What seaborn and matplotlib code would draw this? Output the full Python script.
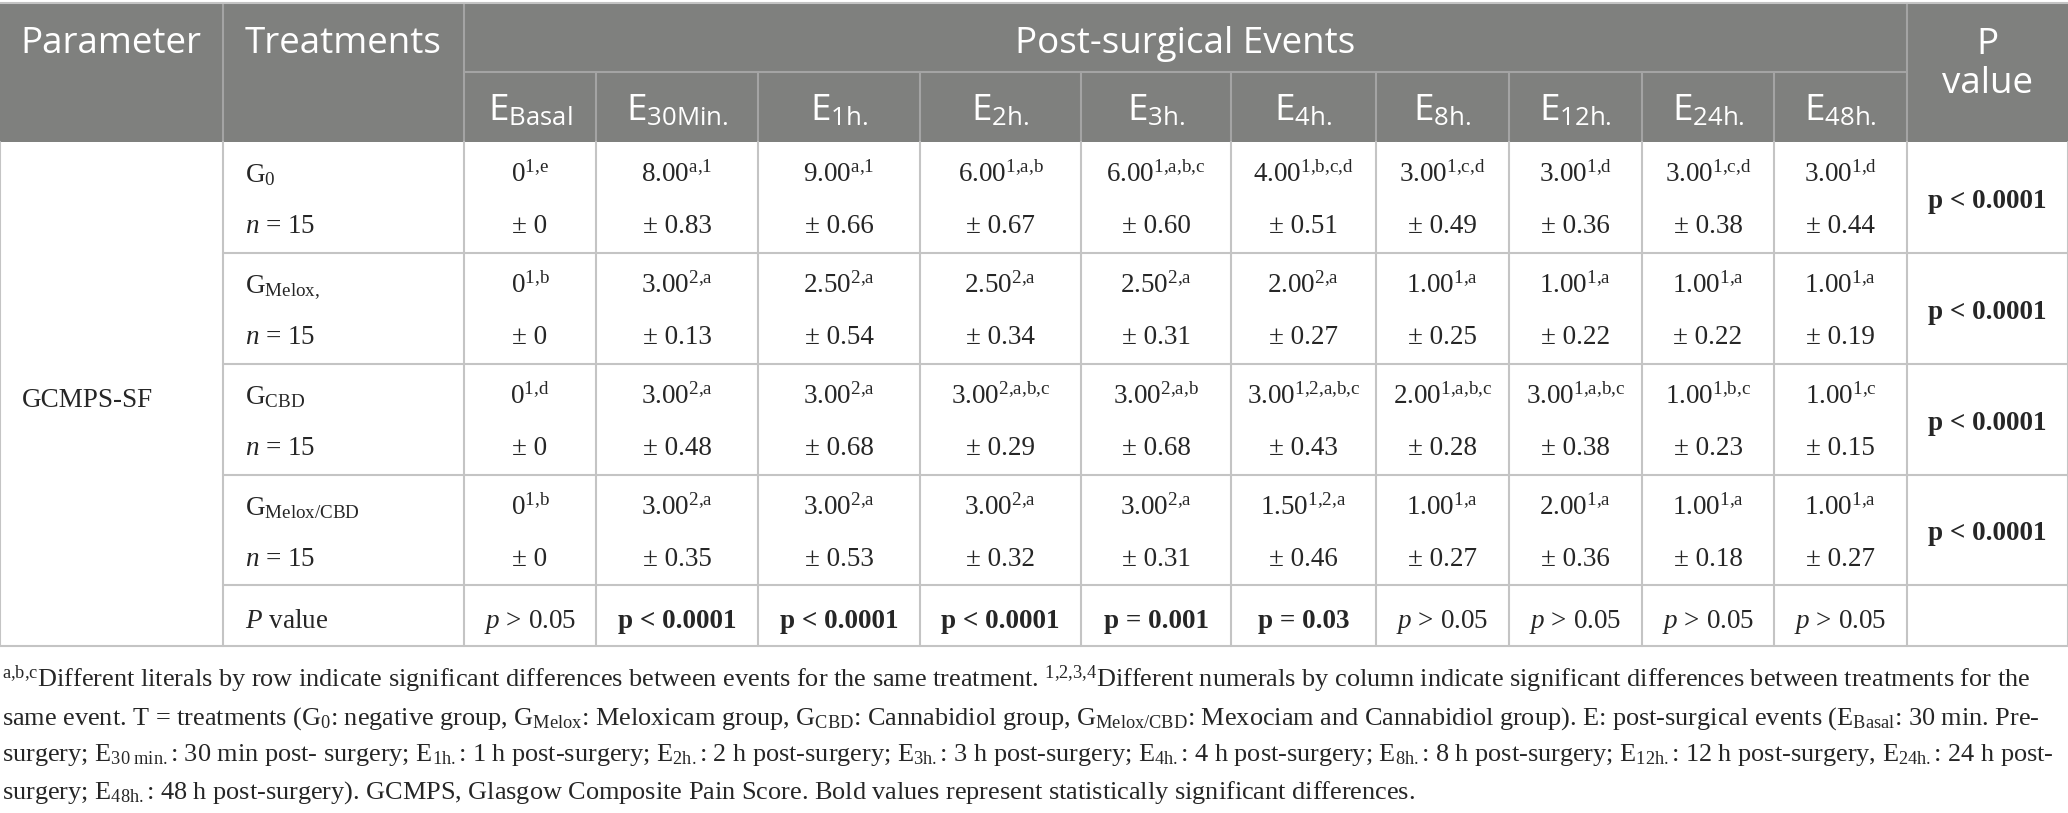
import matplotlib
matplotlib.use("Agg")
import matplotlib.pyplot as plt
import seaborn as sns
from matplotlib.patches import Rectangle

# ---- table data ----
events = ["Basal", "30Min.", "1h.", "2h.", "3h.", "4h.", "8h.", "12h.", "24h.", "48h."]
treatments = ["0", "Melox,", "CBD", "Melox/CBD"]
group_n = [15, 15, 15, 15]
parameter = "GCMPS-SF"

g0_mean = [0, 8.00, 9.00, 6.00, 6.00, 4.00, 3.00, 3.00, 3.00, 3.00]
g0_sup = ["1,e", "a,1", "a,1", "1,a,b", "1,a,b,c", "1,b,c,d", "1,c,d", "1,d", "1,c,d", "1,d"]
g0_sd = [0, 0.83, 0.66, 0.67, 0.60, 0.51, 0.49, 0.36, 0.38, 0.44]

melox_mean = [0, 3.00, 2.50, 2.50, 2.50, 2.00, 1.00, 1.00, 1.00, 1.00]
melox_sup = ["1,b", "2,a", "2,a", "2,a", "2,a", "2,a", "1,a", "1,a", "1,a", "1,a"]
melox_sd = [0, 0.13, 0.54, 0.34, 0.31, 0.27, 0.25, 0.22, 0.22, 0.19]

cbd_mean = [0, 3.00, 3.00, 3.00, 3.00, 3.00, 2.00, 3.00, 1.00, 1.00]
cbd_sup = ["1,d", "2,a", "2,a", "2,a,b,c", "2,a,b", "1,2,a,b,c", "1,a,b,c", "1,a,b,c", "1,b,c", "1,c"]
cbd_sd = [0, 0.48, 0.68, 0.29, 0.68, 0.43, 0.28, 0.38, 0.23, 0.15]

mc_mean = [0, 3.00, 3.00, 3.00, 3.00, 1.50, 1.00, 2.00, 1.00, 1.00]
mc_sup = ["1,b", "2,a", "2,a", "2,a", "2,a", "1,2,a", "1,a", "1,a", "1,a", "1,a"]
mc_sd = [0, 0.35, 0.53, 0.32, 0.31, 0.46, 0.27, 0.36, 0.18, 0.27]

# P value by event (sign, value, significant)
event_p_sign = [">", "<", "<", "<", "=", "=", ">", ">", ">", ">"]
event_p_val = ["0.05", "0.0001", "0.0001", "0.0001", "0.001", "0.03", "0.05", "0.05", "0.05", "0.05"]
event_p_sig = [False, True, True, True, True, True, False, False, False, False]
# P value by treatment
treat_p = ["p < 0.0001", "p < 0.0001", "p < 0.0001", "p < 0.0001"]

means = [g0_mean, melox_mean, cbd_mean, mc_mean]
sups = [g0_sup, melox_sup, cbd_sup, mc_sup]
sds = [g0_sd, melox_sd, cbd_sd, mc_sd]

footnote = [
    r"$^{\mathrm{a{,}b{,}c}}$Different literals by row indicate significant differences between events for the same treatment. "
    r"$^{\mathrm{1{,}2{,}3{,}4}}$Different numerals by column indicate significant differences between treatments for the",
    r"same event. T = treatments (G$_{\mathrm{0}}$: negative group, G$_{\mathrm{Melox}}$: Meloxicam group, "
    r"G$_{\mathrm{CBD}}$: Cannabidiol group, G$_{\mathrm{Melox/CBD}}$: Mexociam and Cannabidiol group). "
    r"E: post-surgical events (E$_{\mathrm{Basal}}$: 30 min. Pre-",
    r"surgery; E$_{\mathrm{30\ min.}}$: 30 min post- surgery; E$_{\mathrm{1h.}}$: 1 h post-surgery; "
    r"E$_{\mathrm{2h.}}$: 2 h post-surgery; E$_{\mathrm{3h.}}$: 3 h post-surgery; E$_{\mathrm{4h.}}$: 4 h post-surgery; "
    r"E$_{\mathrm{8h.}}$: 8 h post-surgery; E$_{\mathrm{12h.}}$: 12 h post-surgery, E$_{\mathrm{24h.}}$: 24 h post-",
    r"surgery; E$_{\mathrm{48h.}}$: 48 h post-surgery). GCMPS, Glasgow Composite Pain Score. "
    r"Bold values represent statistically significant differences.",
]

# ---- style ----
sns.set_theme(style="white")
plt.rcParams["font.family"] = ["Liberation Serif", "DejaVu Serif"]
plt.rcParams["mathtext.fontset"] = "custom"
plt.rcParams["mathtext.rm"] = "Liberation Serif"
plt.rcParams["mathtext.it"] = "Liberation Serif:italic"
plt.rcParams["mathtext.bf"] = "Liberation Serif:bold"
plt.rcParams["mathtext.sf"] = "Open Sans"

HDR = "#7f807e"
HDR_LINE = "#a4a4a4"
GRID = "#c4c4c4"
SANS = ["Open Sans", "DejaVu Sans"]
LW = 1.5

W, H = 2068, 813
cols = [0, 223, 464, 596, 758, 920, 1081, 1231, 1376, 1509, 1642, 1774, 1907, 2068]
top, hmid, hbot = 3, 72, 142
rows = [142, 253, 364, 475, 585, 646]

fig = plt.figure(figsize=(W / 100, H / 100), dpi=100)
ax = fig.add_axes([0, 0, 1, 1])
ax.set_xlim(0, W)
ax.set_ylim(H, 0)
ax.axis("off")

# header block
ax.add_patch(Rectangle((0, top), W, hbot - top, facecolor=HDR, lw=0))
for x in [cols[1], cols[2], cols[12]]:
    ax.plot([x, x], [top, hbot], color=HDR_LINE, lw=LW)
ax.plot([cols[2], cols[12]], [hmid, hmid], color=HDR_LINE, lw=LW)
for x in cols[3:12]:
    ax.plot([x, x], [hmid, hbot], color=HDR_LINE, lw=LW)
ax.plot([0, W], [top, top], color=GRID, lw=LW)

hfs = 26.5
ax.text(20, 53, "Parameter", color="white", fontsize=hfs, family=SANS)
ax.text(245, 53, "Treatments", color="white", fontsize=hfs, family=SANS)
ax.text((cols[2] + cols[12]) / 2, 53, "Post-surgical Events", color="white",
        fontsize=hfs, family=SANS, ha="center")
ax.text((cols[12] + cols[13]) / 2, 54, "P", color="white", fontsize=hfs, family=SANS, ha="center")
ax.text((cols[12] + cols[13]) / 2, 93, "value", color="white", fontsize=hfs, family=SANS, ha="center")
for j, ev in enumerate(events):
    cx = (cols[j + 2] + cols[j + 3]) / 2
    ax.text(cx, 121, r"E$_{\mathsf{%s}}$" % ev, color="white", fontsize=hfs, family=SANS, ha="center")

# body grid
for y in rows[1:-1]:
    ax.plot([cols[1], W], [y, y], color=GRID, lw=LW)
ax.plot([0, W], [rows[-1], rows[-1]], color=GRID, lw=LW)
for x in cols:
    ax.plot([x, x], [hbot, rows[-1]], color=GRID, lw=LW)

bfs = 19.5
ax.text(22, (rows[0] + rows[-1]) / 2 + 13, parameter, fontsize=bfs)

for i, tr in enumerate(treatments):
    y0 = rows[i]
    ax.text(245, y0 + 40, r"G$_{\mathrm{%s}}$" % tr, fontsize=bfs)
    ax.text(245, y0 + 91, r"$n$ = %d" % group_n[i], fontsize=bfs)
    for j in range(len(events)):
        cx = (cols[j + 2] + cols[j + 3]) / 2
        m = means[i][j]
        mtxt = "0" if m == 0 else "%.2f" % m
        sup = sups[i][j].replace(",", "{,}")
        ax.text(cx, y0 + 40, mtxt + r"$^{\mathrm{%s}}$" % sup, fontsize=bfs, ha="center")
        s = sds[i][j]
        stxt = "± 0" if s == 0 else "± %.2f" % s
        ax.text(cx, y0 + 91, stxt, fontsize=bfs, ha="center")
    ax.text((cols[12] + cols[13]) / 2, (rows[i] + rows[i + 1]) / 2 + 10, treat_p[i],
            fontsize=bfs, ha="center", weight="bold")

yp = (rows[4] + rows[5]) / 2 + 12
ax.text(245, yp, r"$P$ value", fontsize=bfs)
for j in range(len(events)):
    cx = (cols[j + 2] + cols[j + 3]) / 2
    if event_p_sig[j]:
        ax.text(cx, yp, "p %s %s" % (event_p_sign[j], event_p_val[j]), fontsize=bfs,
                ha="center", weight="bold")
    else:
        ax.text(cx, yp, r"$p$ %s %s" % (event_p_sign[j], event_p_val[j]), fontsize=bfs, ha="center")

# footnote, sized so the widest line fits the figure width
ffs = 18
notes = []
for k, line in enumerate(footnote):
    notes.append(ax.text(2, 687 + k * 37.2, line, fontsize=ffs))
fig.canvas.draw()
r = fig.canvas.get_renderer()
wdt = max(t.get_window_extent(r).width for t in notes)
for t in notes:
    t.set_fontsize(ffs * 2050 / wdt)

fig.savefig("out.png", dpi=100)
